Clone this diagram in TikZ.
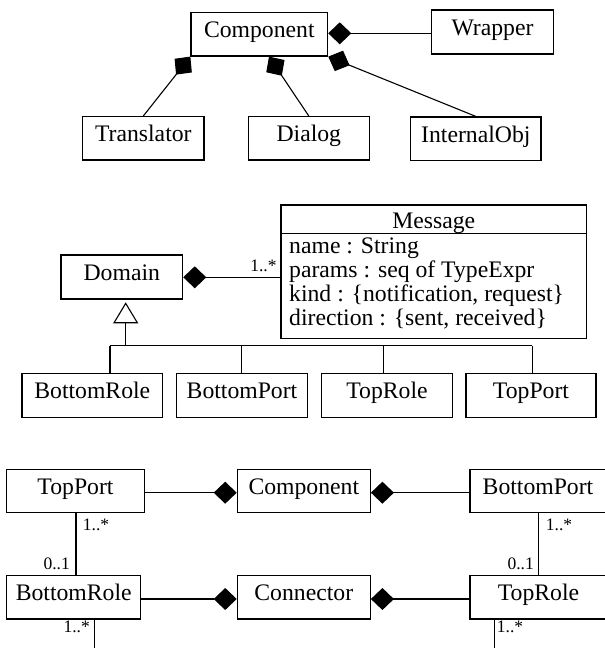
\documentclass[tikz,border=0pt]{standalone}
\usepackage{fontspec}
\setmainfont{Liberation Serif}
\usetikzlibrary{arrows.meta,calc}
\begin{document}
\begin{tikzpicture}[x=1pt,y=-1pt,
  every node/.style={font=\fontsize{23.7}{23.8}\selectfont},
  cls/.style={draw, line width=1.2pt, rectangle, inner sep=0pt, minimum height=43.4pt, text height=12pt, text depth=5.4pt},
  lnk/.style={line width=1.1pt},
  comp/.style={lnk, -{Diamond[length=23pt,width=22pt]}},
  mult/.style={font=\fontsize{17.5}{18}\selectfont, inner sep=0pt},
]
\useasboundingbox (0,0) rectangle (605,648);

% ---------- top diagram ----------
\node[cls, minimum width=136.7pt] (comp) at (259.3,34.3) {Component};
\node[cls, minimum width=121.6pt, minimum height=44pt] (wrap) at (492.5,32) {Wrapper};
\node[cls, minimum width=121.3pt] (trans) at (143.3,138.3) {Translator};
\node[cls, minimum width=121pt] (dial) at (308.8,138.3) {Dialog};
\node[cls, minimum width=130.3pt] (iobj) at (475.8,138.7) {InternalObj};

\draw[comp] (wrap.west |- 0,33.3) -- (comp.east |- 0,33.3);
\draw[comp] (trans.north) -- (comp.south west);
\draw[comp] (dial.north) -- ($(comp.south)+(9.7,0)$);
\draw[comp] (iobj.north) -- (comp.south east);

% ---------- middle diagram ----------
\node[cls, minimum width=121.7pt, minimum height=44pt] (dom) at (121.8,277) {Domain};
\node[draw, line width=1.2pt, inner sep=0pt, minimum width=305.7pt, minimum height=133.3pt] (msg) at (433.8,271.7) {};
\node[anchor=base, inner sep=0pt] (msgt) at (433.8,228.5) {Message};
\draw[line width=1.2pt] (msg.west |- 0,233.3) -- (msg.east |- 0,233.3);
\node[anchor=base west, inner sep=0pt] (a1) at (289,253.3) {name : String};
\node[anchor=base west, inner sep=0pt] (a2) at (289,277.3) {params : seq of TypeExpr};
\node[anchor=base west, inner sep=0pt] (a3) at (289,301.0) {kind : \{notification, request\}};
\node[anchor=base west, inner sep=0pt] (a4) at (289,325.0) {direction : \{sent, received\}};

\draw[comp] (msg.west |- 0,277.3) -- (dom.east |- 0,277.3);
\node[mult, anchor=base east] (m0) at (276.7,271.7) {1..*};

\node[cls, minimum width=140.7pt, minimum height=44pt] (brole) at (92.3,395.3) {BottomRole};
\node[cls, minimum width=130.6pt, minimum height=44pt] (bport) at (242,395.3) {BottomPort};
\node[cls, minimum width=130.6pt, minimum height=44pt] (trole) at (387,395.3) {TopRole};
\node[cls, minimum width=130pt, minimum height=44pt] (tport) at (531,395.3) {TopPort};

\coordinate (stem) at (125.7,345.7);
\coordinate (b1) at (110,345.7);
\coordinate (b2) at (241.7,345.7);
\coordinate (b3) at (383.3,345.7);
\coordinate (b4) at (532.3,345.7);
\draw[lnk, -{Triangle[open,length=21pt,width=25pt]}, shorten >=2.7pt] (stem) -- (stem |- dom.south);
\draw[lnk] (b1) -- (b4);
\draw[lnk] (b1) -- (b1 |- brole.north);
\draw[lnk] (b2) -- (b2 |- bport.north);
\draw[lnk] (b3) -- (b3 |- trole.north);
\draw[lnk] (b4) -- (b4 |- tport.north);

% ---------- bottom diagram ----------
\node[cls, minimum width=137.6pt] (tp2) at (75.5,491) {TopPort};
\node[cls, minimum width=133pt] (co2) at (303.8,491) {Component};
\node[cls, minimum width=160pt] (bp2) at (550,491) {\hspace*{-24pt}BottomPort};
\node[cls, minimum width=134pt] (br2) at (73.7,597.3) {BottomRole};
\node[cls, minimum width=133pt] (cn2) at (303.8,597.3) {Connector};
\node[cls, minimum width=160pt] (tr2) at (550,597.3) {\hspace*{-23pt}TopRole};

\draw[comp] (tp2.east |- 0,492.7) -- (co2.west |- 0,492.7);
\draw[comp] (bp2.west |- 0,492.7) -- (co2.east |- 0,492.7);
\draw[comp] (br2.east |- 0,599) -- (cn2.west |- 0,599);
\draw[comp] (tr2.west |- 0,599) -- (cn2.east |- 0,599);

\draw[lnk] (tp2.south -| 76,0) -- (br2.north -| 76,0);
\draw[lnk] (bp2.south -| 538.7,0) -- (tr2.north -| 538.7,0);
\coordinate (e1) at (94.3,652);
\coordinate (e2) at (494.3,652);
\draw[lnk] (br2.south -| e1) -- (e1);
\draw[lnk] (tr2.south -| e2) -- (e2);

\node[mult, anchor=base west] (m1) at (82.7,530) {1..*};
\node[mult, anchor=base east] (m2) at (70,569.3) {0..1};
\node[mult, anchor=base west] (m3) at (545.7,530) {1..*};
\node[mult, anchor=base east] (m4) at (534,569.3) {0..1};
\node[mult, anchor=base east] (m5) at (90,632.3) {1..*};
\node[mult, anchor=base west] (m6) at (496.7,632.3) {1..*};
\end{tikzpicture}
\end{document}
